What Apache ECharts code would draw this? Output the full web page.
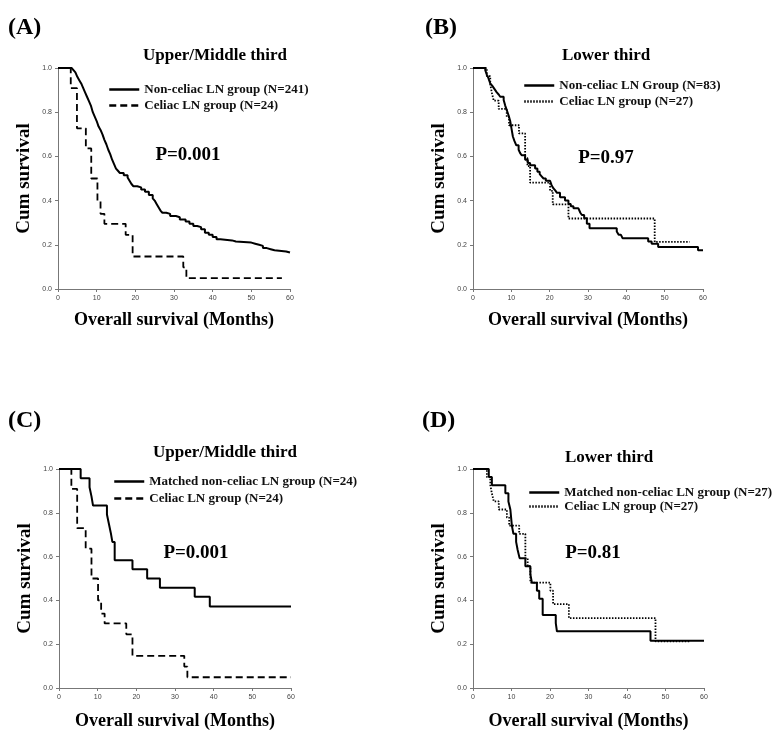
<!DOCTYPE html>
<html>
<head>
<meta charset="utf-8">
<script src="https://cdn.jsdelivr.net/npm/echarts@6/dist/echarts.min.js"></script>
<style>
  html, body { margin: 0; padding: 0; background: #fff; }
  #chart { width: 777px; height: 731px; }
</style>
</head>
<body>
<div id="chart"></div>
<script>
// survival curves, [month, cum survival]
var upperNonCeliac = [[0,1],[3.5,1],[4,0.99],[4.5,0.98],[5,0.96],[5.5,0.945],[6,0.93],[6.5,0.91],[7,0.89],[7.5,0.87],[8,0.85],[8.5,0.83],[9,0.8],[9.5,0.78],[10,0.76],[10.5,0.735],[11,0.72],[11.5,0.7],[12,0.675],[12.5,0.655],[13,0.63],[13.5,0.61],[14,0.585],[14.5,0.565],[15,0.545],[15.5,0.535],[16,0.525],[17,0.515],[18,0.505],[18.5,0.49],[19,0.475],[19.5,0.465],[20.5,0.46],[21.5,0.45],[22.5,0.44],[23.5,0.425],[24.5,0.41],[25,0.4],[25.5,0.385],[26,0.37],[26.5,0.355],[27,0.345],[28,0.34],[29,0.33],[30.5,0.325],[31.5,0.315],[33,0.305],[34,0.295],[35,0.285],[36,0.28],[37,0.27],[38,0.255],[39,0.245],[40,0.235],[41,0.225],[42,0.22],[45,0.215],[46,0.21],[50,0.205],[51,0.2],[52,0.195],[53,0.185],[54,0.18],[55,0.175],[56,0.17],[59,0.165],[60,0.165]];
var upperCeliac = [[0,1],[3.3,0.909],[4.9,0.727],[7.2,0.636],[8.6,0.5],[10.2,0.4],[11,0.34],[12,0.295],[17.5,0.245],[19.3,0.147],[32.4,0.098],[33.2,0.049],[57.9,0.049]];
var lowerNonCeliac = [[0,1],[3.2,0.99],[3.6,0.97],[4,0.955],[4.5,0.93],[5,0.92],[5.4,0.91],[5.8,0.9],[6.2,0.89],[6.7,0.88],[7.1,0.87],[8,0.855],[8.4,0.83],[8.8,0.81],[9.3,0.785],[9.7,0.76],[10,0.73],[10.4,0.69],[10.8,0.67],[11.3,0.65],[11.9,0.63],[12.3,0.615],[12.7,0.605],[13.6,0.585],[14.3,0.57],[14.9,0.56],[16.2,0.545],[16.8,0.53],[17.4,0.52],[17.9,0.51],[18.4,0.5],[19,0.49],[20.1,0.485],[20.5,0.47],[21,0.455],[21.5,0.445],[21.9,0.435],[22.7,0.415],[24,0.4],[24.9,0.385],[25.5,0.375],[26.2,0.365],[27.5,0.36],[28,0.345],[28.4,0.335],[29,0.32],[29.7,0.295],[30.4,0.275],[37.5,0.26],[38,0.245],[38.6,0.237],[39,0.23],[45.7,0.215],[46.6,0.205],[48.3,0.19],[58.7,0.175],[60,0.175]];
var lowerCeliac = [[0,1],[3.6,0.963],[4.5,0.926],[4.9,0.889],[5.4,0.852],[6.7,0.815],[8.8,0.778],[9.4,0.741],[12,0.704],[13.6,0.593],[14.2,0.556],[14.9,0.481],[20.1,0.444],[20.8,0.383],[24.9,0.319],[47.4,0.213],[56.5,0.213]];
var matchedUpper = [[0,1],[5.6,0.958],[7.9,0.917],[8.4,0.875],[8.8,0.833],[12.4,0.792],[12.9,0.75],[13.4,0.708],[13.8,0.667],[14.4,0.583],[19,0.542],[22.8,0.5],[26.1,0.458],[35.1,0.417],[39,0.372],[60,0.372]];
var matchedUpperCeliac = [[0,1],[3.2,0.909],[4.7,0.73],[6.9,0.636],[8.4,0.5],[10.1,0.4],[10.9,0.34],[11.8,0.295],[17.4,0.245],[19,0.147],[32.4,0.098],[33.2,0.049],[60,0.049]];
var matchedLower = [[0,1],[4.1,0.963],[4.9,0.926],[8.4,0.889],[9.2,0.852],[9.7,0.815],[9.9,0.778],[10.1,0.741],[10.5,0.704],[11.2,0.667],[11.6,0.63],[12.1,0.593],[13.6,0.556],[14.9,0.519],[15.3,0.481],[16.6,0.444],[17.2,0.407],[18.1,0.333],[21.5,0.296],[21.8,0.259],[46.1,0.216],[60,0.216]];

var panelLabels = ["(A)", "(B)", "(C)", "(D)"];
var panelTitles = ["Upper/Middle third", "Lower third", "Upper/Middle third", "Lower third"];
var pValues = ["P=0.001", "P=0.97", "P=0.001", "P=0.81"];
var legendNames = [
    ["Non-celiac LN group (N=241)", "Celiac LN group (N=24)"],
    ["Non-celiac LN Group (N=83)", "Celiac LN group (N=27)"],
    ["Matched non-celiac LN group (N=24)", "Celiac LN group (N=24)"],
    ["Matched non-celiac LN group (N=27)", "Celiac LN group (N=27)"]
];
var curves = [
    [upperNonCeliac, upperCeliac],
    [lowerNonCeliac, lowerCeliac],
    [matchedUpper, matchedUpperCeliac],
    [matchedLower, lowerCeliac]
];
var xTicks = [0, 10, 20, 30, 40, 50, 60];
var yTicks = [0, 0.2, 0.4, 0.6, 0.8, 1.0];

var serif = "Liberation Serif";
var grids = [
    {left: 58, top: 68, width: 232, height: 221},
    {left: 473, top: 68, width: 230, height: 221},
    {left: 59, top: 469, width: 232, height: 220},
    {left: 473, top: 469, width: 231, height: 220}
];
var titlePos = [[143, 47], [562, 47], [153, 444], [565, 449]];
var labelPos = [[8, 30], [425, 30], [8, 423], [422, 423]];
var pPos = [[188, 155], [606, 158], [196, 553], [593, 553]];
var legendPos = [[108, 83, 3], [523, 79, 3], [113, 475, 4], [528, 486, 1]];
var dashStyle = [[7, 4], [1.5, 1.5], [7, 4], [1.5, 1.5]];

var xAxes = [], yAxes = [], series = [], titles = [], legends = [], texts = [];
for (var i = 0; i < 4; i++) {
    xAxes.push({
        gridIndex: i, type: 'value', min: xTicks[0], max: xTicks[xTicks.length - 1], interval: 10,
        name: 'Overall survival (Months)', nameLocation: 'middle', nameGap: i < 2 ? 22 : 24,
        nameTextStyle: {fontFamily: serif, fontWeight: 'bold', fontSize: 18, color: '#000'},
        splitLine: {show: false},
        axisLine: {lineStyle: {color: '#777', width: 1}},
        axisTick: {length: 3, lineStyle: {color: '#777'}},
        axisLabel: {fontSize: 7, color: '#444', fontFamily: 'Liberation Sans', margin: 6}
    });
    yAxes.push({
        gridIndex: i, type: 'value', min: yTicks[0], max: yTicks[yTicks.length - 1], interval: 0.2,
        name: 'Cum survival', nameLocation: 'middle', nameGap: 24,
        nameTextStyle: {fontFamily: serif, fontWeight: 'bold', fontSize: 19, color: '#000'},
        splitLine: {show: false},
        axisLine: {show: true, lineStyle: {color: '#777', width: 1}},
        axisTick: {show: true, length: 3, lineStyle: {color: '#777'}},
        axisLabel: {fontSize: 7, color: '#444', fontFamily: 'Liberation Sans', margin: 6,
            formatter: function (v) { return v.toFixed(1); }}
    });
    for (var s = 0; s < 2; s++) {
        series.push({
            type: 'line', name: legendNames[i][s], xAxisIndex: i, yAxisIndex: i,
            step: 'end', symbol: 'none', showSymbol: false, data: curves[i][s],
            itemStyle: {color: '#000'},
            lineStyle: {color: '#000', width: s == 0 ? 2 : 1.8, type: s == 0 ? 'solid' : dashStyle[i]}
        });
    }
    titles.push({
        text: panelTitles[i], left: titlePos[i][0], top: titlePos[i][1], padding: 0,
        textStyle: {fontFamily: serif, fontWeight: 'bold', fontSize: 17, color: '#000'}
    });
    legends.push({
        data: legendNames[i], orient: 'vertical', left: legendPos[i][0], top: legendPos[i][1],
        itemGap: legendPos[i][2], itemWidth: 30, itemHeight: 14, padding: 0, selectedMode: false,
        itemStyle: {opacity: 0},
        lineStyle: {width: 2.5},
        textStyle: {fontFamily: serif, fontWeight: 'bold', fontSize: 13, color: '#111'}
    });
    texts.push({
        type: 'text', left: labelPos[i][0], top: labelPos[i][1] - 14,
        style: {text: panelLabels[i], font: 'bold 24px "Liberation Serif"', fill: '#000'}
    });
    texts.push({
        type: 'text', x: pPos[i][0], y: pPos[i][1],
        style: {text: pValues[i], font: 'bold 19px "Liberation Serif"', fill: '#000',
            textAlign: 'center', textVerticalAlign: 'middle'}
    });
}

var myChart = echarts.init(document.getElementById('chart'));
myChart.setOption({
    animation: false,
    backgroundColor: '#fff',
    title: titles,
    legend: legends,
    grid: grids,
    xAxis: xAxes,
    yAxis: yAxes,
    series: series,
    graphic: texts
});
</script>
</body>
</html>
